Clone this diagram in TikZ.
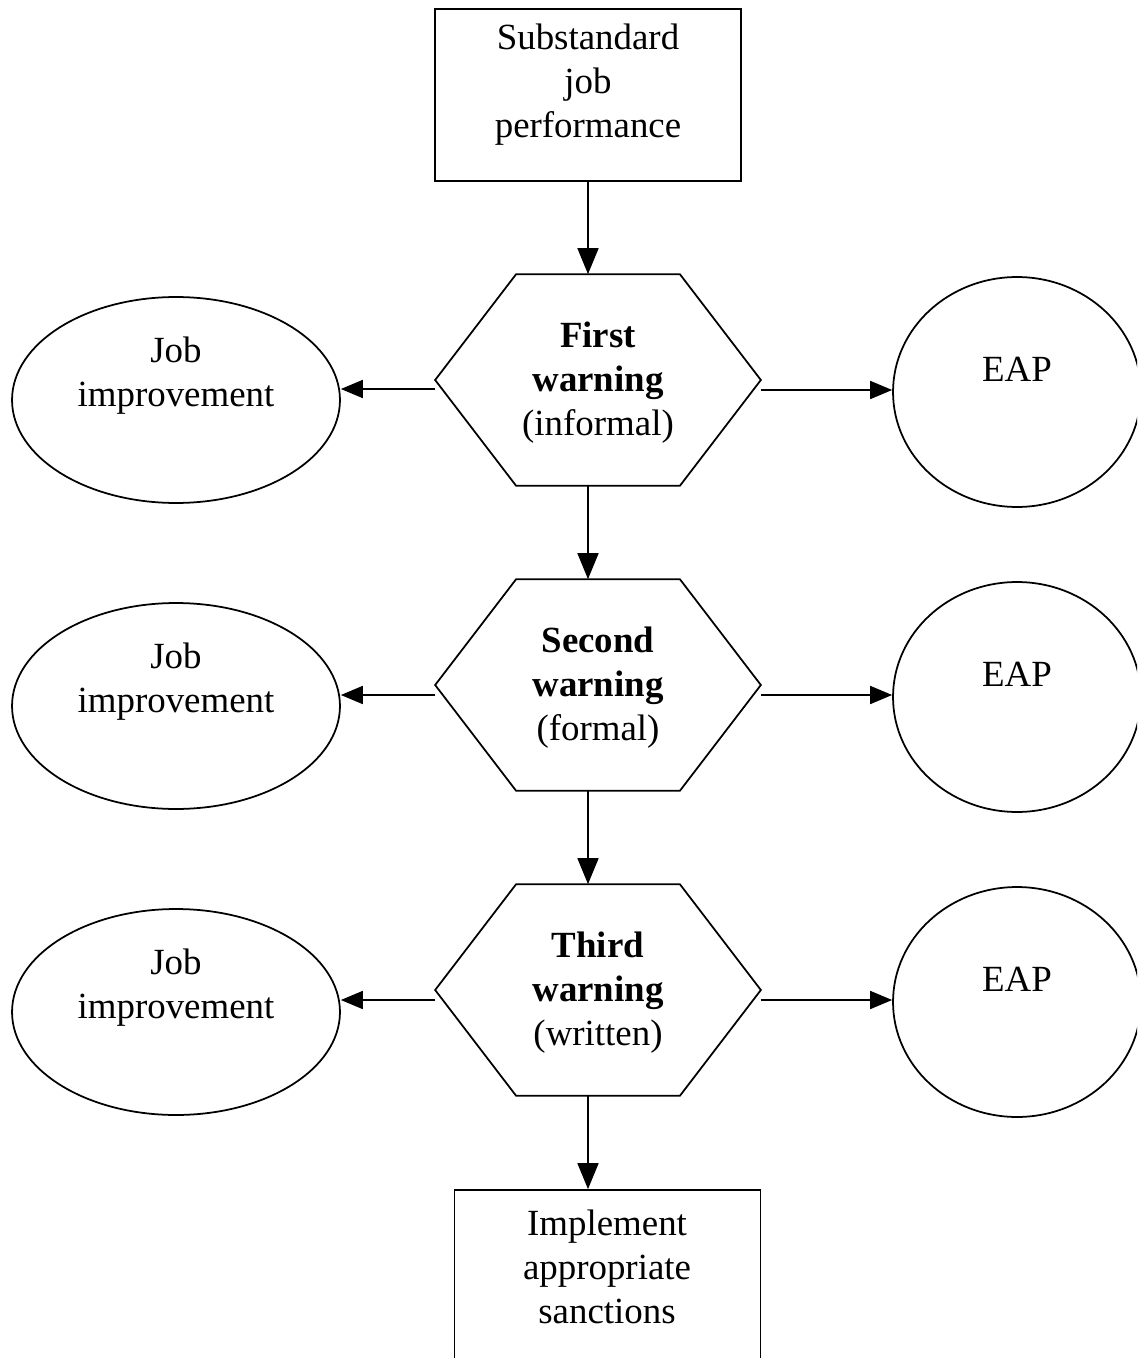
\documentclass[tikz,border=0pt]{standalone}
\usepackage{fontspec}
\setmainfont{Liberation Serif}
\usetikzlibrary{arrows.meta,calc,shapes.geometric}
\begin{document}
\begin{tikzpicture}[x=0.02cm,y=-0.02cm,line width=1pt,
  rbox/.style={draw,minimum width=6.12cm,minimum height=3.44cm,inner sep=0pt},
  hexbox/.style={minimum width=6.48cm,minimum height=4.2cm,inner sep=0pt},
  jobell/.style={draw,ellipse,minimum width=6.56cm,minimum height=4.12cm,inner sep=0pt},
  eapell/.style={draw,ellipse,minimum width=4.96cm,minimum height=4.6cm,inner sep=0pt},
  txt/.style={align=center,inner sep=0pt,font=\fontsize{21}{25}\selectfont},
  varr/.style={-{Triangle[length=0.52cm,width=0.42cm]}},
  harr/.style={-{Triangle[length=0.44cm,width=0.36cm]}},
]
\useasboundingbox (0,0) rectangle (1137,1358);
\clip (0,0) rectangle (1137,1358);

% top box
\node[rbox] (top) at (588,95) {};
\node[txt] (topt) at (588,85) {Substandard\\job\\performance};

% hexagons
\node[hexbox] (h1) at (598,380) {};
\node[hexbox] (h2) at (598,685) {};
\node[hexbox] (h3) at (598,990) {};
\foreach \h in {h1,h2,h3}{
  \draw ($(\h.north west)+(81,0)$) -- ($(\h.north east)+(-81,0)$) -- (\h.east)
     -- ($(\h.south east)+(-81,0)$) -- ($(\h.south west)+(81,0)$) -- (\h.west) -- cycle;
}
\node[txt] (h1t) at (598,383) {\textbf{First}\\\textbf{warning}\\(informal)};
\node[txt] (h2t) at (598,688) {\textbf{Second}\\\textbf{warning}\\(formal)};
\node[txt] (h3t) at (598,993) {\textbf{Third}\\\textbf{warning}\\(written)};

% bottom box
\node[rbox] (bot) at (607.5,1276) {};
\node[txt] (bott) at (607,1267) {Implement\\appropriate\\sanctions};

% job improvement ellipses
\node[jobell] (j1) at (176,400) {};
\node[txt] (j1t) at (176,376) {Job\\improvement};
\node[jobell] (j2) at (176,706) {};
\node[txt] (j2t) at (176,682) {Job\\improvement};
\node[jobell] (j3) at (176,1012) {};
\node[txt] (j3t) at (176,988) {Job\\improvement};

% EAP circles
\node[eapell] (e1) at (1017,392) {};
\node[txt] (e1t) at (1017,369) {EAP};
\node[eapell] (e2) at (1017,697) {};
\node[txt] (e2t) at (1017,674) {EAP};
\node[eapell] (e3) at (1017,1002) {};
\node[txt] (e3t) at (1017,979) {EAP};

% vertical arrows
\draw[varr] (top.south) -- (top.south |- h1.north);
\draw[varr] (h1.south -| top.south) -- (h2.north -| top.south);
\draw[varr] (h2.south -| top.south) -- (h3.north -| top.south);
\draw[varr] (h3.south -| top.south) -- (bot.north -| top.south);

% side arrows
\draw[harr] ($(h1.west)+(0,9)$) -- ($(j1.east)+(0,-11)$);
\draw[harr] ($(h1.east)+(0,10)$) -- ($(e1.west)+(0,-2)$);
\draw[harr] ($(h2.west)+(0,10)$) -- ($(j2.east)+(0,-11)$);
\draw[harr] ($(h2.east)+(0,10)$) -- ($(e2.west)+(0,-2)$);
\draw[harr] ($(h3.west)+(0,10)$) -- ($(j3.east)+(0,-12)$);
\draw[harr] ($(h3.east)+(0,10)$) -- ($(e3.west)+(0,-2)$);
\end{tikzpicture}
\end{document}
